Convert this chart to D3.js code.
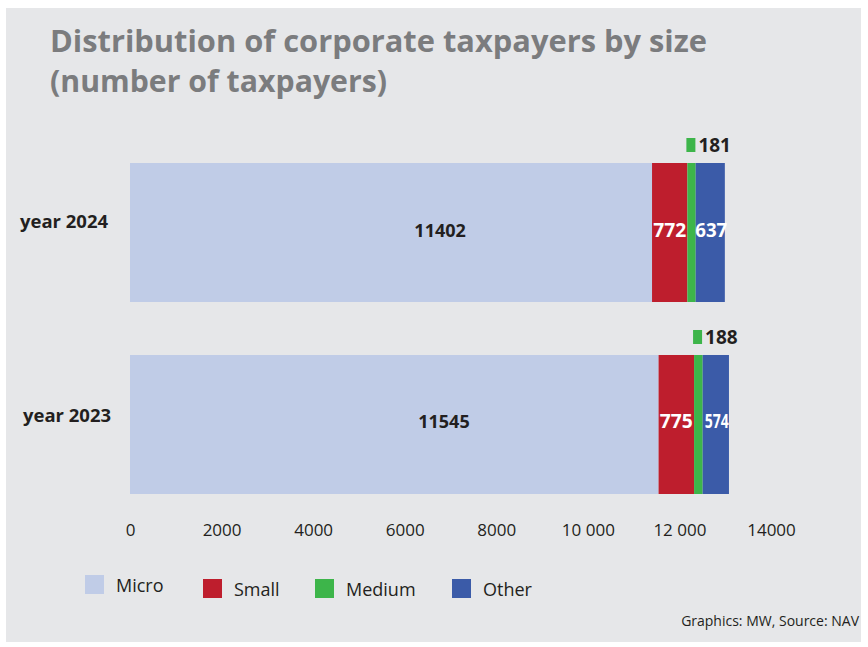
<!DOCTYPE html>
<html><head><meta charset="utf-8">
<script src="https://cdn.jsdelivr.net/npm/d3@7"></script>
<style>body{margin:0;background:#fff}svg{display:block}text{font-family:"Open Sans",sans-serif}</style>
</head><body>
<svg id="c" width="868" height="647"></svg>
<script>
const years = ["year 2024", "year 2023"];
const seriesNames = ["Micro", "Small", "Medium", "Other"];
const micro = [11402, 11545];
const small = [772, 775];
const medium = [181, 188];
const other = [637, 574];
const tickValues = [0, 2000, 4000, 6000, 8000, 10000, 12000, 14000];
const tickLabels = ["0", "2000", "4000", "6000", "8000", "10 000", "12 000", "14000"];
const colors = ["#c0cce7", "#be1e2d", "#3db54a", "#3b5ba8"];

const svg = d3.select("#c");
svg.append("rect").attr("x", 6).attr("y", 8).attr("width", 855).attr("height", 634).attr("fill", "#e6e7e9");

svg.append("text").attr("x", 50).attr("y", 52).attr("font-size", 30).attr("font-weight", 700)
  .attr("fill", "#7b7c7e").attr("textLength", 657).attr("lengthAdjust", "spacingAndGlyphs")
  .text("Distribution of corporate taxpayers by size");
svg.append("text").attr("x", 50).attr("y", 92).attr("font-size", 30).attr("font-weight", 700)
  .attr("fill", "#7b7c7e").attr("textLength", 337).attr("lengthAdjust", "spacingAndGlyphs")
  .text("(number of taxpayers)");

const x = d3.scaleLinear().domain([0, 14000]).range([130, 130 + 14000 * 0.045785]);
const y = d3.scaleBand().domain(years).range([163, 494]).paddingInner(0.276);

const data = years.map((yr, i) => ({year: yr, Micro: micro[i], Small: small[i], Medium: medium[i], Other: other[i]}));
const stack = d3.stack().keys(seriesNames)(data);

const g = svg.append("g");
stack.forEach((s, si) => {
  g.selectAll(null).data(s).join("rect")
    .attr("x", d => x(d[0])).attr("width", d => x(d[1]) - x(d[0]))
    .attr("y", d => y(d.data.year)).attr("height", y.bandwidth())
    .attr("fill", colors[si]);
});

// micro labels
g.selectAll(null).data(stack[0]).join("text")
  .attr("x", d => x(d[1] * 0.594)).attr("y", d => y(d.data.year) + y.bandwidth() / 2 + 4)
  .attr("text-anchor", "middle").attr("font-size", 18).attr("font-weight", 700).attr("fill", "#231f20")
  .text(d => d.data.Micro);
// small labels
g.selectAll(null).data(stack[1]).join("text")
  .attr("x", d => (x(d[0]) + x(d[1])) / 2).attr("y", d => y(d.data.year) + y.bandwidth() / 2 + 4)
  .attr("text-anchor", "middle").attr("font-size", 19).attr("font-weight", 700).attr("fill", "#fff")
  .attr("textLength", 33).attr("lengthAdjust", "spacingAndGlyphs")
  .text(d => d.data.Small);
// other labels
g.selectAll(null).data(stack[3]).join("text")
  .attr("x", d => (x(d[0]) + x(d[1])) / 2 + 1).attr("y", d => y(d.data.year) + y.bandwidth() / 2 + 4)
  .attr("text-anchor", "middle").attr("font-size", 19).attr("font-weight", 700).attr("fill", "#fff")
  .attr("textLength", (d, i) => i === 0 ? 32 : 24).attr("lengthAdjust", "spacingAndGlyphs")
  .text(d => d.data.Other);
// medium callouts
g.selectAll(null).data(stack[2]).join("rect")
  .attr("x", d => x(d[0]) - 1).attr("width", 9)
  .attr("y", d => y(d.data.year) - 25).attr("height", 14).attr("fill", colors[2]);
g.selectAll(null).data(stack[2]).join("text")
  .attr("x", d => x(d[0]) + 11).attr("y", d => y(d.data.year) - 11)
  .attr("font-size", 19).attr("font-weight", 700).attr("fill", "#231f20")
  .text(d => d.data.Medium);

// year labels
svg.selectAll(null).data(years).join("text")
  .attr("x", (d, i) => i === 0 ? 20 : 23).attr("y", (d, i) => y(d) + y.bandwidth() / 2 - (i === 0 ? 5 : 2))
  .attr("font-size", 18).attr("font-weight", 700).attr("fill", "#231f20")
  .attr("textLength", 88).attr("lengthAdjust", "spacingAndGlyphs")
  .text(d => d);

// axis
const axis = d3.axisBottom(x).tickValues(tickValues).tickSize(0).tickPadding(0)
  .tickFormat((d, i) => tickLabels[i]);
const ag = svg.append("g").attr("transform", "translate(0,524)").call(axis);
ag.select(".domain").remove();
ag.selectAll("text").attr("font-size", 17).attr("fill", "#231f20")
  .attr("font-family", "'Open Sans',sans-serif").attr("dy", "0.71em");

// legend
const legX = [85, 203, 315, 452];
const legY = [575, 579, 579, 579];
const lg = svg.append("g");
seriesNames.forEach((n, i) => {
  lg.append("rect").attr("x", legX[i]).attr("y", legY[i]).attr("width", 19).attr("height", 19).attr("fill", colors[i]);
  lg.append("text").attr("x", legX[i] + 31).attr("y", legY[i] + 17).attr("font-size", 18)
    .attr("fill", "#231f20").text(n);
});

svg.append("text").attr("x", 859).attr("y", 626).attr("text-anchor", "end").attr("font-size", 14)
  .attr("fill", "#231f20").text("Graphics: MW, Source: NAV");
</script>
</body></html>
